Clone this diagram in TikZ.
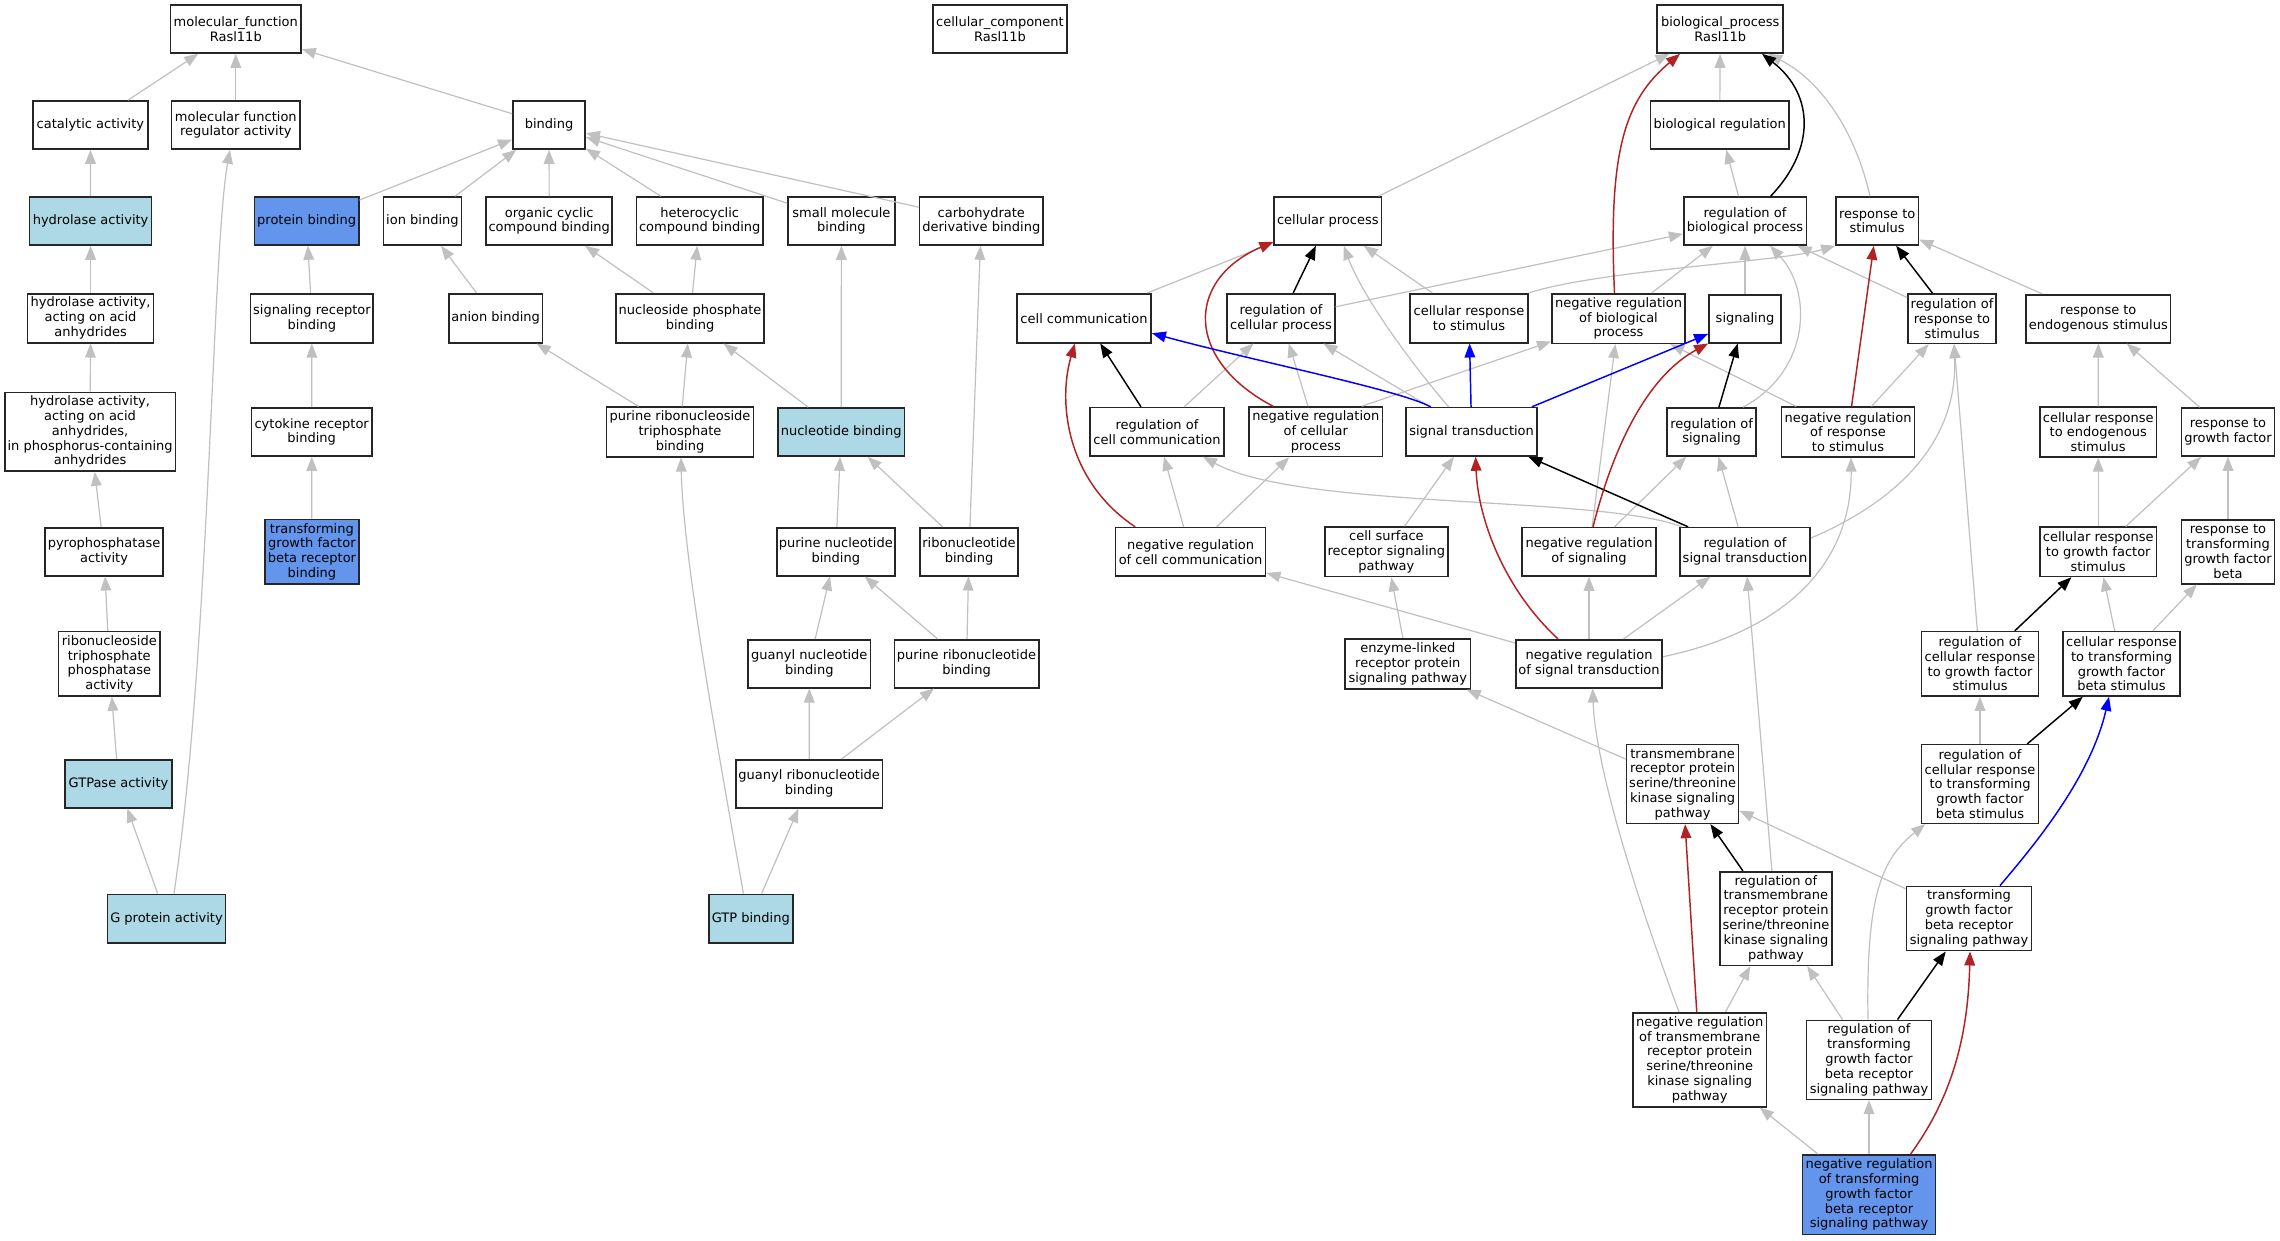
\documentclass[tikz,border=0pt]{standalone}
\usepackage{fontspec}
\setmainfont{DejaVu Sans}
\usetikzlibrary{arrows.meta,calc}
\definecolor{lbGO}{HTML}{ADD8E6}
\definecolor{cbGO}{HTML}{6495ED}
\definecolor{egGO}{HTML}{C0C0C0}
\definecolor{rdGO}{HTML}{B22222}
\definecolor{blGO}{HTML}{0000FF}
\newcommand{\gofont}{\fontsize{9.75pt}{11.1pt}\selectfont}
\tikzset{
  gobox/.style={draw=black!85, line width=1.2pt, fill=white, align=center, inner xsep=1pt, inner ysep=0pt, font=\gofont},
  wh/.style 2 args={minimum width={#1*0.75pt}, minimum height={#2*0.75pt}},
  lb/.style={fill=lbGO},
  cb/.style={fill=cbGO},
  goarrow/.style={-{Triangle[length=10.5pt,width=8pt]}},
  ge/.style={draw=egGO, line width=0.9pt, goarrow},
  be/.style={draw=black, line width=1.1pt, goarrow},
  re/.style={draw=rdGO, line width=1.1pt, goarrow},
  ue/.style={draw=blGO, line width=1.1pt, goarrow},
}
\begin{document}
\begin{tikzpicture}[x=0.75pt,y=-0.75pt]
\fill[white] (0,0) rectangle (2280,1240);
\useasboundingbox (0,0) rectangle (2280,1240);
% ---------- row 0
\node[gobox, wh={130.4}{48}] (mf) at (235.8,29) {molecular\_function\\Rasl11b};
\node[gobox, wh={133.8}{48}] (cc) at (1000,29) {cellular\_component\\Rasl11b};
\node[gobox, wh={126}{48}] (bp) at (1720.2,29) {biological\_process\\Rasl11b};
% ---------- row 1
\node[gobox, wh={115}{48}] (cat) at (90.4,125) {catalytic activity};
\node[gobox, wh={128.4}{48}] (mfr) at (235.8,125) {molecular function\\regulator activity};
\node[gobox, wh={72.2}{48}] (bind) at (549,125) {binding};
\node[gobox, wh={138.6}{48}] (bioreg) at (1719.7,125) {biological regulation};
% ---------- row 2
\node[gobox, lb, wh={122}{48}] (hyd) at (90.6,221) {hydrolase activity};
\node[gobox, cb, wh={104.2}{48}] (pb) at (306.6,221) {protein binding};
\node[gobox, wh={78}{48}] (ionb) at (422.4,221) {ion binding};
\node[gobox, wh={126}{48}] (ocb) at (549.2,221) {organic cyclic\\compound binding};
\node[gobox, wh={126.6}{48}] (hcb) at (699.7,221) {heterocyclic\\compound binding};
\node[gobox, wh={106.7}{48}] (smb) at (841.4,221) {small molecule\\binding};
\node[gobox, wh={123.6}{48}] (cdb) at (981.3,221) {carbohydrate\\derivative binding};
\node[gobox, wh={107.1}{48}] (cp) at (1327.8,221) {cellular process};
\node[gobox, wh={122.6}{48}] (rbp) at (1745,221) {regulation of\\biological process};
\node[gobox, wh={82.4}{48}] (rs) at (1877.2,221) {response to\\stimulus};
% ---------- row 3
\node[gobox, wh={126}{49}] (hyda) at (90.6,318.2) {hydrolase activity,\\acting on acid\\anhydrides};
\node[gobox, wh={122.6}{49}] (srb) at (311.9,318.2) {signaling receptor\\binding};
\node[gobox, wh={93.6}{49}] (anb) at (495.6,318.2) {anion binding};
\node[gobox, wh={147.5}{49}] (npb) at (690,318.2) {nucleoside phosphate\\binding};
\node[gobox, wh={134.2}{49}] (ccom) at (1084,318.2) {cell communication};
\node[gobox, wh={107.6}{49}] (rcp) at (1281,318.2) {regulation of\\cellular process};
\node[gobox, wh={118}{49}] (crs) at (1469,318.2) {cellular response\\to stimulus};
\node[gobox, wh={133.4}{49.6}] (nrbp) at (1618.5,318.5) {negative regulation\\of biological\\process};
\node[gobox, wh={72.2}{48}] (sig) at (1745,318.7) {signaling};
\node[gobox, wh={88.2}{49.3}] (rrs) at (1952,318.7) {regulation of\\response to\\stimulus};
\node[gobox, wh={144.4}{48}] (rend) at (2098.3,318.7) {response to\\endogenous stimulus};
% ---------- row 4
\node[gobox, wh={170.6}{78.7}] (hydp) at (90.1,431.7) {hydrolase activity,\\acting on acid\\anhydrides,\\in phosphorus-containing\\anhydrides};
\node[gobox, wh={120.2}{48}] (ckb) at (311.7,432) {cytokine receptor\\binding};
\node[gobox, wh={147.3}{49.6}] (prtp) at (680,432) {purine ribonucleoside\\triphosphate\\binding};
\node[gobox, lb, wh={126.5}{48}] (nb) at (841.2,432) {nucleotide binding};
\node[gobox, wh={134}{48.3}] (rcc) at (1157,431.8) {regulation of\\cell communication};
\node[gobox, wh={133.6}{49.6}] (nrcp) at (1315.8,431.8) {negative regulation\\of cellular\\process};
\node[gobox, wh={130.8}{48.3}] (st) at (1471.6,431.8) {signal transduction};
\node[gobox, wh={88.7}{48}] (rsg) at (1711.6,432) {regulation of\\signaling};
\node[gobox, wh={133.3}{49.6}] (nrrs) at (1848,432) {negative regulation\\of response\\to stimulus};
\node[gobox, wh={116.3}{49.6}] (cre) at (2098.2,432) {cellular response\\to endogenous\\stimulus};
\node[gobox, wh={93}{48}] (rgf) at (2228,432) {response to\\growth factor};
% ---------- row 5
\node[gobox, wh={117.8}{48}] (pyro) at (104,551.7) {pyrophosphatase\\activity};
\node[gobox, cb, wh={93.6}{64.7}] (tgfbrb) at (311.9,551.7) {transforming\\growth factor\\beta receptor\\binding};
\node[gobox, wh={117.8}{48}] (pnb) at (835.8,551.7) {purine nucleotide\\binding};
\node[gobox, wh={98.4}{48}] (rnb) at (969,551.7) {ribonucleotide\\binding};
\node[gobox, wh={150}{48.3}] (nrcc) at (1190.6,551.8) {negative regulation\\of cell communication};
\node[gobox, wh={122.7}{49.6}] (csr) at (1386.4,551.8) {cell surface\\receptor signaling\\pathway};
\node[gobox, wh={133.5}{48.3}] (nrsg) at (1589,551.8) {negative regulation\\of signaling};
\node[gobox, wh={130.4}{48.3}] (rst) at (1745,551.8) {regulation of\\signal transduction};
\node[gobox, wh={116.3}{49.3}] (crgf) at (2098.2,551.8) {cellular response\\to growth factor\\stimulus};
\node[gobox, wh={93}{64}] (rtgfb) at (2228,551.7) {response to\\transforming\\growth factor\\beta};
% ---------- row 6
\node[gobox, wh={101.3}{64.3}] (rtpa) at (109.3,663.8) {ribonucleoside\\triphosphate\\phosphatase\\activity};
\node[gobox, wh={122.5}{48}] (gnb) at (809.3,663.7) {guanyl nucleotide\\binding};
\node[gobox, wh={144.4}{48}] (prnb) at (966.5,663.7) {purine ribonucleotide\\binding};
\node[gobox, wh={125.6}{50}] (elr) at (1407.8,663.7) {enzyme-linked\\receptor protein\\signaling pathway};
\node[gobox, wh={146.5}{48}] (nrst) at (1589,663.7) {negative regulation\\of signal transduction};
\node[gobox, wh={117.3}{64.3}] (rcrgf) at (1980,663.8) {regulation of\\cellular response\\to growth factor\\stimulus};
\node[gobox, wh={117.3}{64.3}] (crtgfb) at (2121.5,663.8) {cellular response\\to transforming\\growth factor\\beta stimulus};
% ---------- row 7
\node[gobox, lb, wh={107}{48}] (gtpase) at (118.5,783.7) {GTPase activity};
\node[gobox, wh={146.8}{48}] (grnb) at (809.2,783.7) {guanyl ribonucleotide\\binding};
\node[gobox, wh={112}{78.7}] (tmr) at (1682.6,784) {transmembrane\\receptor protein\\serine/threonine\\kinase signaling\\pathway};
\node[gobox, wh={117.3}{78.7}] (rcrtgfb) at (1980,784) {regulation of\\cellular response\\to transforming\\growth factor\\beta stimulus};
% ---------- row 8
\node[gobox, lb, wh={118.3}{48.4}] (gpa) at (166.5,918.5) {G protein activity};
\node[gobox, lb, wh={83.8}{48.4}] (gtpb) at (750.8,918.5) {GTP binding};
\node[gobox, wh={112}{93.6}] (rtmr) at (1775.9,918.5) {regulation of\\transmembrane\\receptor protein\\serine/threonine\\kinase signaling\\pathway};
\node[gobox, wh={125.3}{64.3}] (tgfbrsp) at (1969,918.5) {transforming\\growth factor\\beta receptor\\signaling pathway};
% ---------- row 9
\node[gobox, wh={133.8}{94}] (ntmr) at (1699.7,1059.7) {negative regulation\\of transmembrane\\receptor protein\\serine/threonine\\kinase signaling\\pathway};
\node[gobox, wh={125.3}{79}] (rtgfbrsp) at (1869,1059.8) {regulation of\\transforming\\growth factor\\beta receptor\\signaling pathway};
% ---------- row 10
\node[gobox, cb, wh={133.3}{79.3}] (ntgfb) at (1869,1194.7) {negative regulation\\of transforming\\growth factor\\beta receptor\\signaling pathway};

% ================= edges: molecular function
\draw[ge] (cat) -- (mf);
\draw[ge] (mfr) -- (mf);
\draw[ge] (bind) -- (mf);
\draw[ge] (hyd) -- (cat);
\draw[ge] (hyda) -- (hyd);
\draw[ge] (hydp) -- (hyda);
\draw[ge] (pyro) -- (hydp);
\draw[ge] (rtpa) -- (pyro);
\draw[ge] (gtpase) -- (rtpa);
\draw[ge] (gpa) -- (gtpase);
\draw[ge] ($(gpa.north)+(7.5,0)$) .. controls (210,650) and (212,250) .. ($(mfr.south)+(-5.8,0)$);
\draw[ge] (pb) -- (bind);
\draw[ge] (ionb) -- (bind);
\draw[ge] (ocb) -- (bind);
\draw[ge] (hcb) -- (bind);
\draw[ge] (smb) -- (bind);
\draw[ge] (cdb) -- (bind);
\draw[ge] (srb) -- (pb);
\draw[ge] (ckb) -- (srb);
\draw[ge] (tgfbrb) -- (ckb);
\draw[ge] (anb) -- (ionb);
\draw[ge] (npb) -- (ocb);
\draw[ge] (npb) -- (hcb);
\draw[ge] (prtp) -- (anb);
\draw[ge] (prtp) -- (npb);
\draw[ge] (nb) -- (npb);
\draw[ge] (nb) -- (smb);
\draw[ge] (pnb) -- (nb);
\draw[ge] (rnb) -- (nb);
\draw[ge] (rnb) -- (cdb);
\draw[ge] (gnb) -- (pnb);
\draw[ge] (prnb) -- (pnb);
\draw[ge] (prnb) -- (rnb);
\draw[ge] (grnb) -- (gnb);
\draw[ge] (grnb) -- (prnb);
\draw[ge] (gtpb) -- (grnb);
\draw[ge] ($(gtpb.north)+(-7.4,0)$) .. controls (720,760) and (683,560) .. ($(prtp.south)+(1,0)$);

% ================= edges: biological process (gray)
\draw[ge] (cp) -- (bp);
\draw[ge] (bioreg) -- (bp);
\draw[ge] ($(rs.north)+(-7.2,0)$) .. controls (1855,130) and (1820,80) .. ($(bp.south)+(47.8,0)$);
\draw[ge] (rbp) -- (bioreg);
\draw[ge] (ccom) -- (cp);
\draw[ge] (crs) -- (cp);
\draw[ge] ($(st.north)+(-23,0)$) .. controls (1400,350) and (1360,290) .. ($(cp.south)+(16,0)$);
\draw[ge] (rcp) -- (rbp);
\draw[ge] (crs.north east) .. controls (1600,270) and (1780,262) .. (rs.south west);
\draw[ge] (nrbp) -- (rbp);
\draw[ge] (sig) -- (rbp);
\draw[ge] (rrs) -- (rbp);
\draw[ge] ($(rsg.north)+(31.4,0)$) .. controls (1812,370) and (1812,290) .. ($(rbp.south)+(25,0)$);
\draw[ge] (rend) -- (rs);
\draw[ge] (rcc) -- (rcp);
\draw[ge] (nrcp) -- (rcp);
\draw[ge] (st) -- (rcp);
\draw[ge] ($(nrcp.north)+(46,0)$) -- (nrbp);
\draw[ge] (nrcc) -- (rcc);
\draw[ge] (nrcc) -- (nrcp);
\draw[ge] (csr) -- (st);
\draw[ge] ($(rst.north west)+(3,0)$) .. controls (1600,495) and (1300,510) .. ($(rcc.south)+(46,0)$);
\draw[ge] (nrsg) -- (rsg);
\draw[ge] (rst) -- (rsg);
\draw[ge] (nrsg) -- (nrbp);
\draw[ge] ($(rst.east)+(0,-13.8)$) .. controls (1900,500) and (1958,440) .. ($(rrs.south)+(2,0)$);
\draw[ge] (nrrs) -- (rrs);
\draw[ge] (nrrs) -- (nrbp);
\draw[ge] (nrst) -- (nrcc);
\draw[ge] (nrst) -- (nrsg);
\draw[ge] (nrst) -- (rst);
\draw[ge] ($(nrst.east)+(0,-7)$) .. controls (1790,630) and (1852,560) .. ($(nrrs.south)+(3,0)$);
\draw[ge] (elr) -- (csr);
\draw[ge] (tmr) -- (elr);
\draw[ge] (rtmr) -- (rst);
\draw[ge] ($(ntmr.north)+(-20.7,0)$) .. controls (1630,880) and (1595,760) .. ($(nrst.south)+(3.7,0)$);
\draw[ge] (ntmr) -- (rtmr);
\draw[ge] (tgfbrsp) -- (tmr);
\draw[ge] (rtgfbrsp) -- (rtmr);
\draw[ge] ($(rtgfbrsp.north)+(-1,0)$) .. controls (1866,900) and (1880,860) .. ($(rcrtgfb.south west)+(4.7,0)$);
\draw[ge] (ntgfb) -- (ntmr);
\draw[ge] (ntgfb) -- (rtgfbrsp);
\draw[ge] (rcrtgfb) -- (rcrgf);
\draw[ge] (rcrgf) -- (rrs);
\draw[ge] (crtgfb) -- (crgf);
\draw[ge] (crtgfb) -- (rtgfb);
\draw[ge] (crgf) -- (cre);
\draw[ge] (crgf) -- (rgf);
\draw[ge] (rtgfb) -- (rgf);
\draw[ge] (cre) -- (rend);
\draw[ge] (rgf) -- (rend);

% ================= black edges
\draw[be] ($(rbp.north)+(25.6,0)$) .. controls (1815,150) and (1815,95) .. ($(bp.south)+(41.8,0)$);
\draw[be] (rcp) -- (cp);
\draw[be] (rrs) -- (rs);
\draw[be] (rsg) -- (sig);
\draw[be] (rcc) -- (ccom);
\draw[be] (rst) -- (st);
\draw[be] (rtmr) -- (tmr);
\draw[be] (rtgfbrsp) -- (tgfbrsp);
\draw[be] (rcrtgfb) -- (crtgfb);
\draw[be] (rcrgf) -- (crgf);

% ================= red edges
\draw[re] ($(nrbp.north)+(-4,0)$) .. controls (1608,150) and (1625,100) .. ($(bp.south)+(-40.2,0)$);
\draw[re] ($(nrcp.north)+(-42.8,0)$) .. controls (1185,360) and (1185,280) .. ($(cp.west)+(0,20.7)$);
\draw[re] (nrrs) -- (rs);
\draw[re] ($(nrsg.north)+(4,0)$) .. controls (1615,440) and (1650,375) .. (sig.south west);
\draw[re] ($(nrcc.north west)+(20.4,0)$) .. controls (1065,480) and (1058,400) .. ($(ccom.south)+(-9,0)$);
\draw[re] ($(nrst.north)+(-31,0)$) .. controls (1505,590) and (1478,520) .. ($(st.south)+(4,0)$);
\draw[re] (ntmr) -- (tmr);
\draw[re] ($(ntgfb.north)+(41.4,0)$) .. controls (1950,1100) and (1968,1040) .. ($(tgfbrsp.south)+(1,0)$);

% ================= blue edges
\draw[ue] (st) -- (sig);
\draw[ue] ($(st.north)+(-40.8,0)$) .. controls (1400,390) and (1250,360) .. ($(ccom.east)+(0,15)$);
\draw[ue] (st) -- (crs);
\draw[ue] ($(tgfbrsp.north)+(31,0)$) .. controls (2030,850) and (2090,780) .. ($(crtgfb.south)+(-12.5,0)$);
\end{tikzpicture}
\end{document}
